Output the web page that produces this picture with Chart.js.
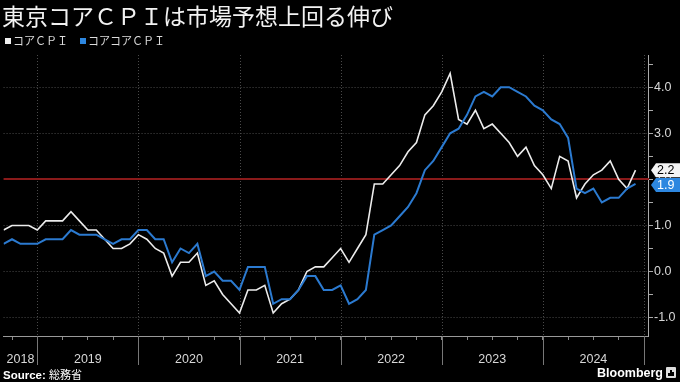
<!DOCTYPE html>
<html><head><meta charset="utf-8">
<script src="https://cdn.jsdelivr.net/npm/chart.js@4/dist/chart.umd.min.js"></script>
<style>
html,body{margin:0;padding:0;background:#000;width:680px;height:382px;overflow:hidden;}
#wrap{position:relative;width:680px;height:382px;}
#c{position:absolute;left:0;top:0;}
.title{position:absolute;left:2px;top:0px;font:23px/30px "Noto Sans CJK JP";color:#f2f2f2;white-space:nowrap;}
.legend{position:absolute;left:5px;top:33px;font:11px/14px "Noto Sans CJK JP";color:#dcdcdc;white-space:nowrap;}
.legend span.sw{display:inline-block;width:6px;height:6px;margin-right:2px;vertical-align:1px;}
.legend span.item{margin-right:12px;}
.source{position:absolute;left:3px;top:367px;font:11.5px/14px "Liberation Sans",Arial,sans-serif;color:#fff;white-space:nowrap;}
.source b{font-weight:bold;}
.source .jp{font-family:"Noto Sans CJK JP";font-size:11px;}
.bbg{position:absolute;left:597px;top:365px;font:bold 12.5px/16px "Liberation Sans",Arial,sans-serif;color:#fff;white-space:nowrap;}
.icon{position:absolute;left:666px;top:367px;width:10px;height:11px;background:#ddd;border-radius:1px;}
.icon i{position:absolute;bottom:2px;width:2px;background:#000;}
</style></head>
<body><div id="wrap">
<canvas id="c" width="680" height="382"></canvas>
<div class="title">東京コアＣＰＩは市場予想上回る伸び</div>
<div class="legend"><span class="item"><span class="sw" style="background:#f0f0f0"></span>コアＣＰＩ</span><span class="item"><span class="sw" style="background:#2d87e0"></span>コアコアＣＰＩ</span></div>
<div class="source"><b>Source:</b> <span class="jp">総務省</span></div>
<div class="bbg">Bloomberg</div>
<div class="icon"><i style="left:2px;height:3px"></i><i style="left:4px;height:6px"></i><i style="left:6px;height:4px"></i></div>
</div>
<script>
// Monthly data, Aug 2018 – Nov 2024 (y/y %)
const startYear = 2018, startMonth = 8;
const coreCPI = [
  0.9, 1.0, 1.0, 1.0, 0.9,                                   // 2018 Aug-Dec
  1.1, 1.1, 1.1, 1.3, 1.1, 0.9, 0.9, 0.7, 0.5, 0.5, 0.6, 0.8, // 2019
  0.7, 0.5, 0.4, -0.1, 0.2, 0.2, 0.4, -0.3, -0.2, -0.5, -0.7, -0.9, // 2020
  -0.4, -0.4, -0.3, -0.9, -0.7, -0.6, -0.4, 0.0, 0.1, 0.1, 0.3, 0.5, // 2021
  0.2, 0.5, 0.8, 1.9, 1.9, 2.1, 2.3, 2.6, 2.8, 3.4, 3.6, 3.9, // 2022
  4.3, 3.3, 3.2, 3.5, 3.1, 3.2, 3.0, 2.8, 2.5, 2.7, 2.3, 2.1, // 2023
  1.8, 2.5, 2.4, 1.6, 1.9, 2.1, 2.2, 2.4, 2.0, 1.8, 2.2       // 2024 Jan-Nov
];
const coreCoreCPI = [
  0.6, 0.7, 0.6, 0.6, 0.6,
  0.7, 0.7, 0.7, 0.9, 0.8, 0.8, 0.8, 0.7, 0.6, 0.7, 0.7, 0.9,
  0.9, 0.7, 0.7, 0.2, 0.5, 0.4, 0.6, -0.1, 0.0, -0.2, -0.2, -0.4,
  0.1, 0.1, 0.1, -0.7, -0.6, -0.6, -0.4, -0.1, -0.1, -0.4, -0.4, -0.3,
  -0.7, -0.6, -0.4, 0.8, 0.9, 1.0, 1.2, 1.4, 1.7, 2.2, 2.4, 2.7,
  3.0, 3.1, 3.4, 3.8, 3.9, 3.8, 4.0, 4.0, 3.9, 3.8, 3.6, 3.5,
  3.3, 3.2, 2.9, 1.8, 1.7, 1.8, 1.5, 1.6, 1.6, 1.8, 1.9
];
const yearLabels = ['2018','2019','2020','2021','2022','2023','2024'];
const yTickLabels = ['-1.0','0.0','1.0','2.0','3.0','4.0'];
const referenceLine = 2.0;
const seriesNames = ['コアＣＰＩ','コアコアＣＰＩ'];

// month categories
const months = coreCPI.map((_, i) => {
  const t = startMonth - 1 + i;
  return { y: startYear + Math.floor(t / 12), m: (t % 12) + 1 };
});
const WHITE = '#ececec', BLUE = '#2b7ad0', BLUEBOX = '#2d87e0', RED = '#8a1a1a';

// x positions: index of month (points sit at month end)
const decIdx = months.map((d, i) => d.m === 12 ? i : -1).filter(i => i >= 0);
const boundaries = decIdx.concat([decIdx[decIdx.length - 1] + 12]).filter(i => i <= months.length + 1);
const quarterIdx = months.map((d, i) => d.m % 3 === 0 ? i : -1).filter(i => i >= 0);
const labelPos = {};
yearLabels.forEach((yl, j) => {
  if (j === 0) labelPos[(0 + decIdx[0]) / 2] = yl;
  else labelPos[decIdx[j - 1] + 6] = yl;
});

const extras = {
  id: 'extras',
  beforeDatasetsDraw(chart) {
    const { ctx, chartArea: a, scales: { x, y } } = chart;
    ctx.save();
    // year separators
    boundaries.forEach(b => {
      const px = Math.round(x.getPixelForValue(b)) + 0.5;
      if (px > a.right + 1) return;
      ctx.strokeStyle = '#4a4a4a'; ctx.lineWidth = 1; ctx.setLineDash([1, 2]);
      ctx.beginPath(); ctx.moveTo(px, a.top); ctx.lineTo(px, a.bottom); ctx.stroke();
      ctx.setLineDash([]); ctx.strokeStyle = '#777';
      ctx.beginPath(); ctx.moveTo(px, a.bottom); ctx.lineTo(px, a.bottom + 29); ctx.stroke();
    });
    // reference line
    const ry = Math.round(y.getPixelForValue(referenceLine));
    ctx.setLineDash([]);
    ctx.fillStyle = RED;
    ctx.fillRect(a.left, ry - 1, a.right - a.left, 2);
    ctx.restore();
  },
  afterDraw(chart) {
    const { ctx, chartArea: a, scales: { y } } = chart;
    const items = [
      { v: coreCPI[coreCPI.length - 1], bg: '#f4f4f4', fg: '#000', dy: 0 },
      { v: coreCoreCPI[coreCoreCPI.length - 1], bg: BLUEBOX, fg: '#fff', dy: 1 }
    ];
    ctx.save();
    items.forEach(it => {
      const cy = y.getPixelForValue(it.v) + it.dy;
      const h = 14, x0 = a.right + 2, x1 = x0 + 5;
      ctx.fillStyle = it.bg;
      ctx.beginPath();
      ctx.moveTo(x0, cy);
      ctx.lineTo(x1, cy - h / 2);
      ctx.lineTo(680, cy - h / 2);
      ctx.lineTo(680, cy + h / 2);
      ctx.lineTo(x1, cy + h / 2);
      ctx.closePath(); ctx.fill();
      ctx.fillStyle = it.fg;
      ctx.font = '12.5px "Liberation Sans", Arial, sans-serif';
      ctx.textBaseline = 'middle'; ctx.textAlign = 'left';
      ctx.fillText(it.v.toFixed(1), x1 + 1, cy + 0.5);
    });
    ctx.restore();
  }
};

new Chart(document.getElementById('c'), {
  type: 'line',
  data: {
    datasets: [
      { label: seriesNames[1], data: coreCoreCPI.map((v, i) => ({ x: i, y: v })), borderColor: BLUE, borderWidth: 2, pointRadius: 0, tension: 0, order: 1 },
      { label: seriesNames[0], data: coreCPI.map((v, i) => ({ x: i, y: v })), borderColor: WHITE, borderWidth: 1.6, pointRadius: 0, tension: 0, order: 2 }
    ]
  },
  options: {
    responsive: false, animation: false, devicePixelRatio: 1,
    layout: { padding: { top: 55, left: 0, right: 0, bottom: 0 } },
    plugins: { legend: { display: false }, tooltip: { enabled: false } },
    scales: {
      x: {
        type: 'linear', min: 0, max: 76.6, position: 'bottom',
        afterBuildTicks(s) {
          const set = new Set(quarterIdx.concat(Object.keys(labelPos).map(Number)));
          s.ticks = [...set].sort((p, q) => p - q).map(v => ({ value: v }));
        },
        afterFit(s) { s.height = 46; },
        ticks: {
          autoSkip: false, maxRotation: 0, padding: 12,
          color: '#d8d8d8', font: { family: '"Liberation Sans", Arial, sans-serif', size: 12.5 },
          callback: v => labelPos[v] || ''
        },
        grid: {
          drawOnChartArea: false, drawTicks: true, tickLength: 4,
          tickColor: c => (c.tick && quarterIdx.includes(c.tick.value)) ? '#888' : 'rgba(0,0,0,0)'
        },
        border: { display: true, color: '#999', width: 1 }
      },
      y: {
        type: 'linear', position: 'right', min: -1.4, max: 4.7,
        afterBuildTicks(s) {
          const t = [];
          for (let k = -2; k <= 9; k++) t.push({ value: k / 2 });
          s.ticks = t;
        },
        afterFit(s) { s.width = 31; },
        ticks: {
          padding: 1, color: '#d8d8d8', font: { family: '"Liberation Sans", Arial, sans-serif', size: 12.5 },
          callback: v => { const i = yTickLabels.indexOf(Number(v).toFixed(1)); return (Math.abs(v * 2) % 2 === 0 && i >= 0) ? yTickLabels[i] : ''; }
        },
        grid: {
          drawTicks: true, tickLength: 4,
          color: c => (c.tick && Number.isInteger(c.tick.value) && c.tick.value !== referenceLine) ? '#4a4a4a' : 'rgba(0,0,0,0)',
          tickColor: '#aaa'
        },
        border: { display: true, color: '#aaa', width: 1, dash: [1, 2] }
      }
    }
  },
  plugins: [extras]
});
</script>
</body></html>
